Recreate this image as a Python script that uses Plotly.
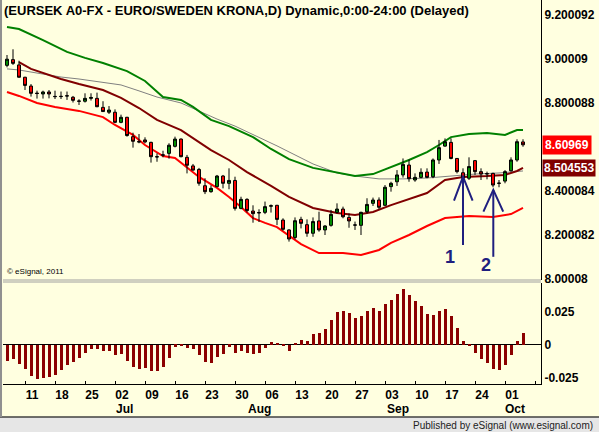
import plotly.graph_objects as go

# ---------------- data ----------------
bar_idx = list(range(87))
open_ = [8.971, 8.997, 8.973, 8.917, 8.877, 8.845, 8.841, 8.850, 8.830, 8.829,
         8.833, 8.826, 8.809, 8.808, 8.821, 8.821, 8.780, 8.758, 8.758, 8.712,
         8.735, 8.647, 8.625, 8.632, 8.621, 8.556, 8.563, 8.571, 8.603, 8.636,
         8.553, 8.514, 8.498, 8.424, 8.397, 8.420, 8.468, 8.435, 8.448, 8.321,
         8.362, 8.309, 8.300, 8.303, 8.331, 8.335, 8.268, 8.223, 8.189, 8.271,
         8.247, 8.208, 8.264, 8.223, 8.244, 8.303, 8.318, 8.280, 8.246, 8.244,
         8.306, 8.344, 8.359, 8.335, 8.420, 8.442, 8.473, 8.518, 8.450, 8.462,
         8.486, 8.465, 8.541, 8.604, 8.621, 8.548, 8.483, 8.458, 8.538, 8.488,
         8.479, 8.480, 8.436, 8.445, 8.492, 8.541, 8.623]
high = [9.018, 9.044, 8.992, 8.919, 8.886, 8.856, 8.856, 8.859, 8.856, 8.852,
        8.852, 8.832, 8.817, 8.844, 8.844, 8.847, 8.808, 8.786, 8.771, 8.747,
        8.737, 8.665, 8.659, 8.644, 8.624, 8.571, 8.583, 8.617, 8.647, 8.639,
        8.564, 8.523, 8.505, 8.458, 8.426, 8.473, 8.473, 8.503, 8.465, 8.374,
        8.367, 8.335, 8.317, 8.352, 8.339, 8.337, 8.276, 8.226, 8.280, 8.283,
        8.271, 8.280, 8.306, 8.245, 8.314, 8.344, 8.329, 8.298, 8.261, 8.306,
        8.367, 8.370, 8.371, 8.427, 8.442, 8.495, 8.548, 8.544, 8.480, 8.503,
        8.503, 8.548, 8.632, 8.639, 8.639, 8.550, 8.503, 8.553, 8.541, 8.503,
        8.488, 8.483, 8.450, 8.495, 8.553, 8.635, 8.635]
low = [8.962, 8.973, 8.915, 8.859, 8.829, 8.820, 8.820, 8.821, 8.818, 8.818,
       8.814, 8.802, 8.791, 8.802, 8.811, 8.781, 8.759, 8.750, 8.708, 8.708,
       8.647, 8.597, 8.617, 8.617, 8.529, 8.533, 8.553, 8.547, 8.598, 8.553,
       8.480, 8.492, 8.424, 8.386, 8.392, 8.417, 8.412, 8.408, 8.311, 8.317,
       8.302, 8.256, 8.259, 8.295, 8.302, 8.245, 8.220, 8.170, 8.180, 8.230,
       8.192, 8.192, 8.215, 8.200, 8.238, 8.298, 8.276, 8.233, 8.223, 8.200,
       8.298, 8.332, 8.317, 8.332, 8.397, 8.423, 8.461, 8.442, 8.442, 8.458,
       8.458, 8.458, 8.523, 8.601, 8.544, 8.480, 8.450, 8.450, 8.473, 8.450,
       8.453, 8.417, 8.417, 8.435, 8.488, 8.533, 8.601]
close = [8.999, 8.980, 8.917, 8.880, 8.844, 8.843, 8.850, 8.841, 8.829, 8.830,
         8.832, 8.812, 8.808, 8.821, 8.825, 8.783, 8.761, 8.768, 8.712, 8.735,
         8.652, 8.626, 8.623, 8.623, 8.556, 8.555, 8.564, 8.608, 8.636, 8.556,
         8.517, 8.495, 8.435, 8.397, 8.412, 8.468, 8.435, 8.448, 8.321, 8.362,
         8.311, 8.297, 8.302, 8.329, 8.333, 8.271, 8.226, 8.182, 8.265, 8.253,
         8.208, 8.261, 8.223, 8.241, 8.294, 8.318, 8.283, 8.264, 8.245, 8.303,
         8.339, 8.359, 8.326, 8.417, 8.435, 8.473, 8.521, 8.456, 8.462, 8.485,
         8.462, 8.541, 8.597, 8.624, 8.548, 8.488, 8.458, 8.511, 8.488, 8.477,
         8.478, 8.427, 8.435, 8.488, 8.541, 8.624, 8.610]

upper_idx = [0, 2, 6, 10, 13, 16, 20, 23, 26, 29, 31, 34, 37, 41, 44, 47, 51, 55,
             58, 61, 64, 67, 70, 72, 74, 77, 80, 83, 85, 86]
upper_val = [9.145, 9.136, 9.086, 9.032, 9.005, 8.982, 8.945, 8.900, 8.827, 8.814,
             8.782, 8.723, 8.695, 8.645, 8.591, 8.545, 8.505, 8.482, 8.468, 8.477,
             8.509, 8.541, 8.577, 8.609, 8.645, 8.659, 8.664, 8.655, 8.677, 8.677]

mid_idx = [2, 4, 9, 12, 16, 19, 22, 25, 29, 31, 34, 37, 40, 44, 47, 51, 55, 58,
           61, 64, 67, 70, 73, 76, 80, 83, 85, 86]
mid_val = [8.986, 8.955, 8.909, 8.886, 8.859, 8.823, 8.777, 8.723, 8.677, 8.641,
           8.586, 8.541, 8.486, 8.423, 8.373, 8.323, 8.300, 8.291, 8.305, 8.336,
           8.364, 8.391, 8.450, 8.464, 8.468, 8.473, 8.491, 8.505]

lower_idx = [0, 2, 5, 8, 12, 16, 18, 21, 23, 26, 28, 30, 32, 35, 37, 39, 41, 43,
             45, 49, 52, 56, 59, 62, 64, 67, 70, 73, 77, 81, 84, 86]
lower_val = [8.850, 8.832, 8.800, 8.782, 8.764, 8.736, 8.700, 8.655, 8.609, 8.559,
             8.550, 8.505, 8.464, 8.414, 8.373, 8.327, 8.277, 8.255, 8.236, 8.159,
             8.118, 8.118, 8.109, 8.132, 8.164, 8.200, 8.241, 8.277, 8.286, 8.282,
             8.295, 8.323]

gray_idx = [0, 2, 5, 9, 12, 16, 19, 22, 25, 29, 32, 35, 38, 42, 45, 48, 51, 55,
            58, 62, 66, 70, 74, 78, 82, 86]
gray_val = [8.955, 8.950, 8.936, 8.918, 8.909, 8.895, 8.882, 8.855, 8.827, 8.800,
            8.764, 8.727, 8.695, 8.645, 8.605, 8.564, 8.523, 8.482, 8.468, 8.455,
            8.455, 8.459, 8.468, 8.477, 8.482, 8.491]

hist = [-0.0119, -0.0106, -0.0144, -0.0182, -0.0232, -0.0258, -0.0247, -0.0240,
        -0.0227, -0.0189, -0.0152, -0.0126, -0.0096, -0.0058, -0.0030, -0.0030,
        -0.0045, -0.0045, -0.0076, -0.0068, -0.0119, -0.0164, -0.0182, -0.0172,
        -0.0194, -0.0194, -0.0164, -0.0096, -0.0013, -0.0003, -0.0020, -0.0030,
        -0.0076, -0.0126, -0.0134, -0.0088, -0.0068, -0.0013, -0.0058, -0.0043,
        -0.0058, -0.0066, -0.0058, -0.0020, 0.0023, 0.0015, -0.0003, -0.0045,
        0.0008, 0.0038, 0.0030, 0.0083, 0.0093, 0.0121, 0.0189, 0.0250, 0.0258,
        0.0242, 0.0205, 0.0222, 0.0258, 0.0280, 0.0258, 0.0311, 0.0341, 0.0386,
        0.0424, 0.0379, 0.0333, 0.0295, 0.0235, 0.0227, 0.0258, 0.0273, 0.0220,
        0.0129, 0.0030, -0.0005, -0.0058, -0.0106, -0.0134, -0.0182, -0.0189,
        -0.0152, -0.0076, 0.0030, 0.0091]

price_ticks = [9.200092, 9.00009, 8.800088, 8.400084, 8.200082, 8.00008]
price_tick_text = ["9.200092", "9.00009", "8.800088", "8.400084", "8.200082", "8.00008"]
osc_ticks = [0.025, 0, -0.025]
osc_tick_text = ["0.025", "0", "-0.025"]

day_labels = ["11", "18", "25", "02", "09", "16", "23", "30", "06", "13", "20",
              "27", "03", "10", "17", "24", "01"]
month_labels = ["Jul", "Aug", "Sep", "Oct"]
month_pos = [19.5, 42.0, 65.2, 84.7]

last_price = 8.60969
last_mid = 8.504553

# ---------------- figure ----------------
BG = "#FFFFE0"
FONT = "Arial, Liberation Sans, sans-serif"
NAVY = "#1F1F7F"

fig = go.Figure()

fig.add_trace(go.Scatter(x=gray_idx, y=gray_val, mode="lines",
                         line=dict(color="#808080", width=1), xaxis="x", yaxis="y"))
fig.add_trace(go.Scatter(x=upper_idx, y=upper_val, mode="lines",
                         line=dict(color="#008000", width=2), xaxis="x", yaxis="y"))
fig.add_trace(go.Scatter(x=mid_idx, y=mid_val, mode="lines",
                         line=dict(color="#800000", width=2), xaxis="x", yaxis="y"))
fig.add_trace(go.Scatter(x=lower_idx, y=lower_val, mode="lines",
                         line=dict(color="#FF0000", width=2), xaxis="x", yaxis="y"))

fig.add_trace(go.Candlestick(
    x=bar_idx, open=open_, high=high, low=low, close=close,
    increasing=dict(line=dict(color="black", width=1), fillcolor="#009000"),
    decreasing=dict(line=dict(color="black", width=1), fillcolor="#FF0000"),
    whiskerwidth=0, xaxis="x", yaxis="y3"))

fig.add_trace(go.Bar(x=bar_idx, y=hist, width=0.5, marker=dict(color="#8B0000", line=dict(width=0)),
                     xaxis="x2", yaxis="y2"))

xr = [-0.667, 89.0]
yr = [7.9955, 9.268]
tickfont = dict(family=FONT, size=12, color="black", weight="bold")

fig.update_layout(
    width=599, height=432,
    margin=dict(l=3, r=58, t=0, b=48),
    paper_bgcolor=BG, plot_bgcolor=BG,
    showlegend=False,
    bargap=0,
    xaxis=dict(domain=[0, 1], range=xr, anchor="y", showticklabels=False,
               showgrid=False, zeroline=False, showline=False, ticks="",
               rangeslider=dict(visible=False)),
    yaxis=dict(domain=[0.2708, 1], range=yr, anchor="x", side="right",
               tickmode="array", tickvals=price_ticks, ticktext=price_tick_text,
               showgrid=False, zeroline=False, showline=True, linecolor="black",
               linewidth=1, ticks="", tickfont=tickfont),
    yaxis3=dict(range=yr, overlaying="y", visible=False, showgrid=False),
    xaxis2=dict(domain=[0, 1], range=xr, anchor="y2",
                tickmode="array", tickvals=[4.17 + 5 * k for k in range(len(day_labels))],
                ticktext=day_labels, ticks="", showgrid=False, zeroline=False,
                showline=True, linecolor="black", linewidth=1, tickfont=tickfont,
                minor=dict(tickmode="array", tickvals=[3 + 5 * k for k in range(18)],
                           ticks="inside", ticklen=3, tickcolor="black", showgrid=False)),
    yaxis2=dict(domain=[0, 0.263], range=[-0.02955, 0.04697], anchor="x2", side="right",
                tickmode="array", tickvals=osc_ticks, ticktext=osc_tick_text,
                showgrid=False, zeroline=True, zerolinecolor="black", zerolinewidth=1,
                showline=True, linecolor="black", linewidth=1, ticks="", tickfont=tickfont),
)

annotations = [
    dict(text="(EURSEK A0-FX - EURO/SWEDEN KRONA,D) Dynamic,0:00-24:00 (Delayed)",
         xref="paper", yref="paper", x=-0.002, y=1, xanchor="left", yanchor="top",
         yshift=-1, showarrow=False,
         font=dict(family=FONT, size=13, color="black", weight="bold")),
    dict(text="© eSignal, 2011", xref="paper", yref="paper", x=0.004, y=0.2917,
         xanchor="left", yanchor="middle", showarrow=False,
         font=dict(family=FONT, size=8, color="black")),
    dict(text="Published by eSignal (www.esignal.com)", xref="paper", yref="paper",
         x=1.1004, y=-0.1068, xanchor="right", yanchor="middle", showarrow=False,
         font=dict(family=FONT, size=10, color="#222222")),
    dict(text=f"{last_price:.5f}", xref="paper", yref="y", x=1.0, y=last_price,
         xanchor="left", yanchor="middle", showarrow=False, bgcolor="#FF0000",
         borderpad=2, xshift=1, font=dict(family=FONT, size=12, color="white", weight="bold")),
    dict(text=f"{last_mid:.6f}", xref="paper", yref="y", x=1.0, y=last_mid,
         xanchor="left", yanchor="middle", showarrow=False, bgcolor="#800000",
         borderpad=1, xshift=1, font=dict(family=FONT, size=12, color="white", weight="bold")),
    dict(text="1", xref="x", yref="y", x=73.8, y=8.101, showarrow=False,
         font=dict(family=FONT, size=18, color=NAVY, weight="bold")),
    dict(text="2", xref="x", yref="y", x=79.9, y=8.064, showarrow=False,
         font=dict(family=FONT, size=18, color=NAVY, weight="bold")),
]
for lab, pos in zip(month_labels, month_pos):
    annotations.append(dict(text=lab, xref="x2", yref="paper", x=pos, y=-0.0651,
                            xanchor="center", yanchor="middle", showarrow=False,
                            font=dict(family=FONT, size=12, color="black", weight="bold")))
fig.update_layout(annotations=annotations)

shapes = [
    # bottom strip
    dict(type="rect", xref="paper", yref="paper", x0=-0.01, x1=1.12, y0=-0.13, y1=-0.0859,
         fillcolor="#E6E6E6", line=dict(width=0), layer="above"),
    dict(type="line", xref="paper", yref="paper", x0=-0.01, x1=1.12, y0=-0.0859, y1=-0.0859,
         line=dict(color="#404040", width=1.5)),
    # left border
    dict(type="line", xref="paper", yref="paper", x0=-0.0037, x1=-0.0037, y0=1.0, y1=-0.0859,
         line=dict(color="#909090", width=2)),
    # panel separator
    dict(type="line", xref="paper", yref="paper", x0=0, x1=1, y0=0.2708, y1=0.2708,
         line=dict(color="#A0A0A0", width=1)),
    dict(type="line", xref="paper", yref="paper", x0=0, x1=1, y0=0.2656, y1=0.2656,
         line=dict(color="#A0A0A0", width=1)),
    # arrow 1
    dict(type="line", xref="x", yref="y", x0=76.0, x1=76.0, y0=8.155, y1=8.465,
         line=dict(color=NAVY, width=2)),
    dict(type="path", xref="x", yref="y", path="M 74.5,8.356 L 76.0,8.465 L 77.6,8.356",
         line=dict(color=NAVY, width=2)),
    # arrow 2
    dict(type="line", xref="x", yref="y", x0=81.05, x1=81.05, y0=8.101, y1=8.405,
         line=dict(color=NAVY, width=2)),
    dict(type="path", xref="x", yref="y", path="M 79.4,8.306 L 81.05,8.405 L 82.7,8.306",
         line=dict(color=NAVY, width=2)),
]
fig.update_layout(shapes=shapes)

fig.write_html("out.html")
